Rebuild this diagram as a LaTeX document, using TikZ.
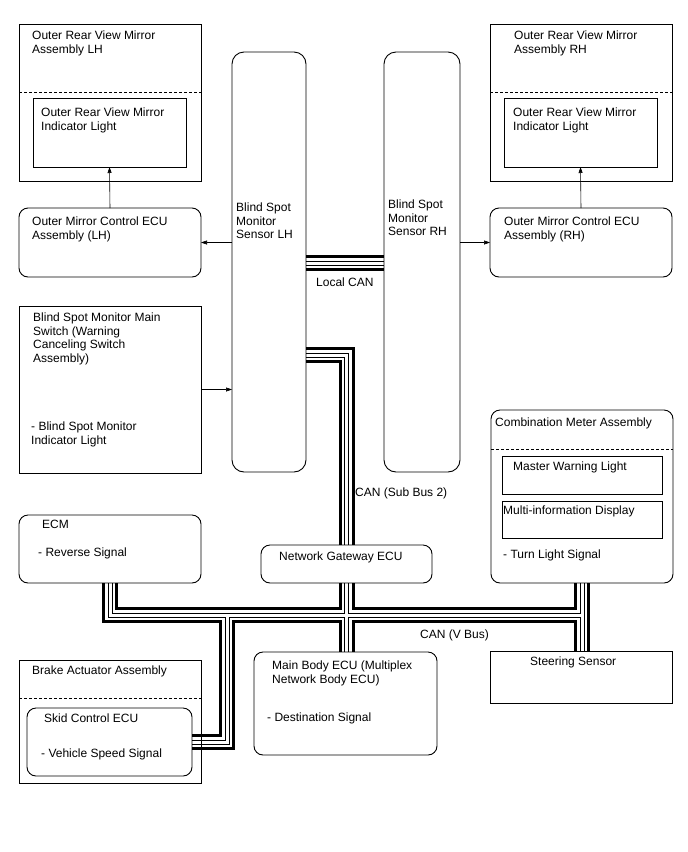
\documentclass[tikz,border=0pt]{standalone}
\usepackage{fontspec}
\setmainfont{Liberation Sans}
\usetikzlibrary{arrows.meta,backgrounds}
\tikzset{bx/.style={draw,line width=.9pt,inner sep=0pt,outer sep=0pt,anchor=north west},
 rbx/.style={bx,rounded corners=9pt},
 txt/.style={anchor=north west,inner sep=0pt,align=left},
 dsh/.style={dash pattern=on 3pt off 2pt,line width=.6pt},
 arr/.style={-{Triangle[length=6pt,width=4pt]},line width=.6pt},
 every node/.style={font=\fontsize{12}{13.5}\selectfont}}
% the CAN wiring, drawn once per layer
\newcommand\canpaths[1]{%
 \draw[#1] (sensl.east |- lcan) -- (sensr.west |- lcan);
 \draw[#1] (sensl.east |- subb) -| (gw.north);
 \draw[#1] (ecm.south) |- (vbus -| cmb.south);
 \draw[#1] (cmb.south) -- (cmb.south |- steer.north);
 \draw[#1] (gw.south) -- (gw.south |- mbody.north);
 \draw[#1] (skidj |- vbus) |- (skid.east);}

\begin{document}
\begin{tikzpicture}[x=1pt,y=-1pt]
\useasboundingbox (0,0) rectangle (688,852);
% left column
\node[bx,minimum width=182pt,minimum height=157pt] (orvml) at (19,24) {};
\node[bx,minimum width=153pt,minimum height=69pt] (orvml-in) at (33,98) {};
\node[rbx,minimum width=182pt,minimum height=69pt] (omcl) at (19,208) {};
\node[bx,minimum width=182pt,minimum height=167pt] (bsmsw) at (19,306) {};
\node[rbx,minimum width=182pt,minimum height=68pt] (ecm) at (19,515) {};
\node[bx,minimum width=182pt,minimum height=123pt] (brk) at (19,660) {};
\node[rbx,minimum width=165pt,minimum height=68pt] (skid) at (27,708) {};
% sensors, gateway, body
\node[bx,rounded corners=12pt,minimum width=74pt,minimum height=420pt] (sensl) at (232,52) {};
\node[bx,rounded corners=12pt,minimum width=76pt,minimum height=420pt] (sensr) at (384,52) {};
\node[rbx,minimum width=171pt,minimum height=38pt] (gw) at (261,545) {};
\node[rbx,minimum width=183pt,minimum height=103pt] (mbody) at (254,652) {};
% right column
\node[bx,minimum width=182pt,minimum height=157pt] (orvmr) at (490,24) {};
\node[bx,minimum width=153pt,minimum height=69pt] (orvmr-in) at (504,98) {};
\node[rbx,minimum width=182pt,minimum height=69pt] (omcr) at (490,208) {};
\node[rbx,minimum width=182pt,minimum height=173pt] (cmb) at (491,410) {};
\node[bx,minimum width=160pt,minimum height=38pt] (cmb-mw) at (502,456) {};
\node[bx,minimum width=160pt,minimum height=37pt] (cmb-md) at (502,501) {};
\node[bx,minimum width=182pt,minimum height=52pt] (steer) at (490,651) {};
% dashed splits
\foreach \b/\d in {orvml/68,orvmr/68,cmb/39,brk/38}{
 \draw[dsh] ([yshift=-\d pt]\b.north west) -- ([yshift=-\d pt]\b.north east);}
% texts
\node[txt] (t-orvml) at (32,31) {Outer Rear View Mirror\\Assembly LH};
\node[txt] (t-orvml-in) at (41,108) {Outer Rear View Mirror\\Indicator Light};
\node[txt] (t-omcl) at (32,217) {Outer Mirror Control ECU\\Assembly (LH)};
\node[txt] (t-bsmsw) at (33,313) {Blind Spot Monitor Main\\Switch (Warning\\Canceling Switch\\Assembly)};
\node[txt] (t-bsmli) at (31,422) {- Blind Spot Monitor\\Indicator Light};
\node[txt] (t-ecm) at (42,520) {ECM};
\node[txt] (t-rev) at (38,548) {- Reverse Signal};
\node[txt] (t-brk) at (32,666) {Brake Actuator Assembly};
\node[txt] (t-skid) at (44,714) {Skid Control ECU};
\node[txt] (t-vss) at (41,749) {- Vehicle Speed Signal};
\node[txt] (t-sensl) at (236,203) {Blind Spot\\Monitor\\Sensor LH};
\node[txt] (t-sensr) at (388,200) {Blind Spot\\Monitor\\Sensor RH};
\node[txt] (t-lcan) at (316,278) {Local CAN};
\node[txt] (t-subb) at (355,488) {CAN (Sub Bus 2)};
\node[txt] (t-gw) at (279,552) {Network Gateway ECU};
\node[txt] (t-vbus) at (420,630) {CAN (V Bus)};
\node[txt] (t-mbody) at (272,661) {Main Body ECU (Multiplex\\Network Body ECU)};
\node[txt] (t-dest) at (267,713) {- Destination Signal};
\node[txt] (t-orvmr) at (514,31) {Outer Rear View Mirror\\Assembly RH};
\node[txt] (t-orvmr-in) at (513,108) {Outer Rear View Mirror\\Indicator Light};
\node[txt] (t-omcr) at (504,217) {Outer Mirror Control ECU\\Assembly (RH)};
\node[txt] (t-cmb) at (495,418) {Combination Meter Assembly};
\node[txt] (t-mw) at (513,462) {Master Warning Light};
\node[txt] (t-md) at (503,506) {Multi-information Display};
\node[txt] (t-turn) at (503,550) {- Turn Light Signal};
\node[txt] (t-steer) at (530,657) {Steering Sensor};
% arrows
\draw[arr] (omcl.north) -- (orvml-in.south);
\draw[arr] (omcr.north) -- (orvmr-in.south);
\draw[arr] (sensl.west |- omcl.east) -- (omcl.east);
\draw[arr] (sensr.east |- omcr.west) -- (omcr.west);
\draw[arr] (bsmsw.east) -- (bsmsw.east -| sensl.west);
% CAN lines
\coordinate (lcan) at (0,263);
\coordinate (subb) at (0,355);
\coordinate (vbus) at (0,615);
\coordinate (skidj) at (227,0);
\begin{scope}[on background layer]
\canpaths{line width=16pt}
\canpaths{white,line width=10pt}
\canpaths{line width=5pt}
\canpaths{white,line width=3pt}
\end{scope}
\end{tikzpicture}
\end{document}
